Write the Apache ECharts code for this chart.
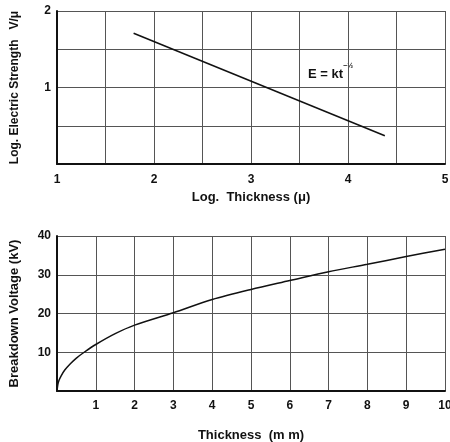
<!DOCTYPE html>
<html>
<head>
<meta charset="utf-8">
<script src="https://cdn.jsdelivr.net/npm/echarts@6/dist/echarts.min.js"></script>
<style>
    html, body { margin: 0; padding: 0; background: #fff; }
    #chart { width: 450px; height: 442px; }
</style>
</head>
<body>
<div id="chart"></div>
<script>
    // top panel: log electric strength vs log thickness
    var logThickness = [1.79, 4.38];
    var logStrength = [1.71, 0.37];

    // bottom panel: breakdown voltage vs thickness
    var thicknessMm = [0, 0.02, 0.05, 0.1, 0.2, 0.35, 0.5, 0.7, 1, 1.5, 2, 3, 4, 5, 6, 7, 8, 9, 10];
    var breakdownKv = [0, 1.6, 2.7, 3.8, 5.4, 7.1, 8.5, 10, 12, 14.8, 17, 20.2, 23.6, 26.2, 28.5, 30.8, 32.7, 34.7, 36.6];

    var font = '"Liberation Sans", Arial, sans-serif';
    var gridColor = '#555';

    function pairs(xs, ys) {
        return xs.map(function (x, i) { return [x, ys[i]] })
    }

    var chart = echarts.init(document.getElementById('chart'))

    var tickLabel = {
        color: '#111',
        fontFamily: font,
        fontWeight: 'bold',
        fontSize: 12
    }
    var nameStyle = {
        color: '#111',
        fontFamily: font,
        fontWeight: 'bold',
        fontSize: 13
    }

    chart.setOption({
        animation: false,
        grid: [
            { left: 57, right: 5, top: 11, height: 153, outerBoundsMode: 'none' },
            { left: 57, right: 5, top: 236, height: 155, outerBoundsMode: 'none' }
        ],
        xAxis: [{
            gridIndex: 0,
            type: 'value',
            min: 1,
            max: 5,
            interval: 0.5,
            name: 'Log.  Thickness (\u03bc)',
            nameLocation: 'middle',
            nameGap: 27,
            nameTextStyle: nameStyle,
            axisLine: { lineStyle: { color: '#111', width: 2 } },
            axisTick: { show: false },
            axisLabel: Object.assign({
                margin: 10,
                formatter: function (v) { return v % 1 === 0 ? v : '' }
            }, tickLabel),
            splitLine: { lineStyle: { color: gridColor, width: 1 } }
        }, {
            gridIndex: 1,
            type: 'value',
            min: 0,
            max: 10,
            interval: 1,
            name: 'Thickness  (m m)',
            nameLocation: 'middle',
            nameGap: 38,
            nameTextStyle: nameStyle,
            axisLine: { lineStyle: { color: '#111', width: 2 } },
            axisTick: { show: false },
            axisLabel: Object.assign({
                margin: 9,
                formatter: function (v) { return v === 0 ? '' : v }
            }, tickLabel),
            splitLine: { lineStyle: { color: gridColor, width: 1 } }
        }],
        yAxis: [{
            gridIndex: 0,
            type: 'value',
            min: 0,
            max: 2,
            interval: 0.5,
            name: 'Log. Electric Strength   V/\u03bc',
            nameLocation: 'middle',
            nameGap: 36,
            nameTextStyle: Object.assign({}, nameStyle, { fontSize: 12 }),
            axisLine: { lineStyle: { color: '#111', width: 2 } },
            axisTick: { show: false },
            axisLabel: Object.assign({
                margin: 6,
                formatter: function (v) { return v !== 0 && v % 1 === 0 ? v : '' }
            }, tickLabel),
            splitLine: { lineStyle: { color: gridColor, width: 1 } }
        }, {
            gridIndex: 1,
            type: 'value',
            min: 0,
            max: 40,
            interval: 10,
            name: 'Breakdown Voltage (kV)',
            nameLocation: 'middle',
            nameGap: 36,
            nameTextStyle: nameStyle,
            axisLine: { lineStyle: { color: '#111', width: 2 } },
            axisTick: { show: false },
            axisLabel: Object.assign({
                margin: 6,
                formatter: function (v) { return v === 0 ? '' : v }
            }, tickLabel),
            splitLine: { lineStyle: { color: gridColor, width: 1 } }
        }],
        graphic: [{
            type: 'text',
            left: 308,
            top: 63,
            style: {
                text: '{a|E = kt}{s|\u2212\u00bd}',
                rich: {
                    a: { fontFamily: font, fontWeight: 'bold', fontSize: 13, fill: '#111', lineHeight: 18, verticalAlign: 'bottom' },
                    s: { fontFamily: font, fontWeight: 'bold', fontSize: 7, fill: '#111', lineHeight: 18, verticalAlign: 'top' }
                }
            }
        }],
        series: [{
            type: 'line',
            xAxisIndex: 0,
            yAxisIndex: 0,
            symbol: 'none',
            lineStyle: { color: '#111', width: 1.5 },
            data: pairs(logThickness, logStrength)
        }, {
            type: 'line',
            xAxisIndex: 1,
            yAxisIndex: 1,
            symbol: 'none',
            smooth: 0.3,
            lineStyle: { color: '#111', width: 1.5 },
            data: pairs(thicknessMm, breakdownKv)
        }]
    })

    window.addEventListener('resize', function () {
        chart.resize()
    })
</script>
</body>
</html>
